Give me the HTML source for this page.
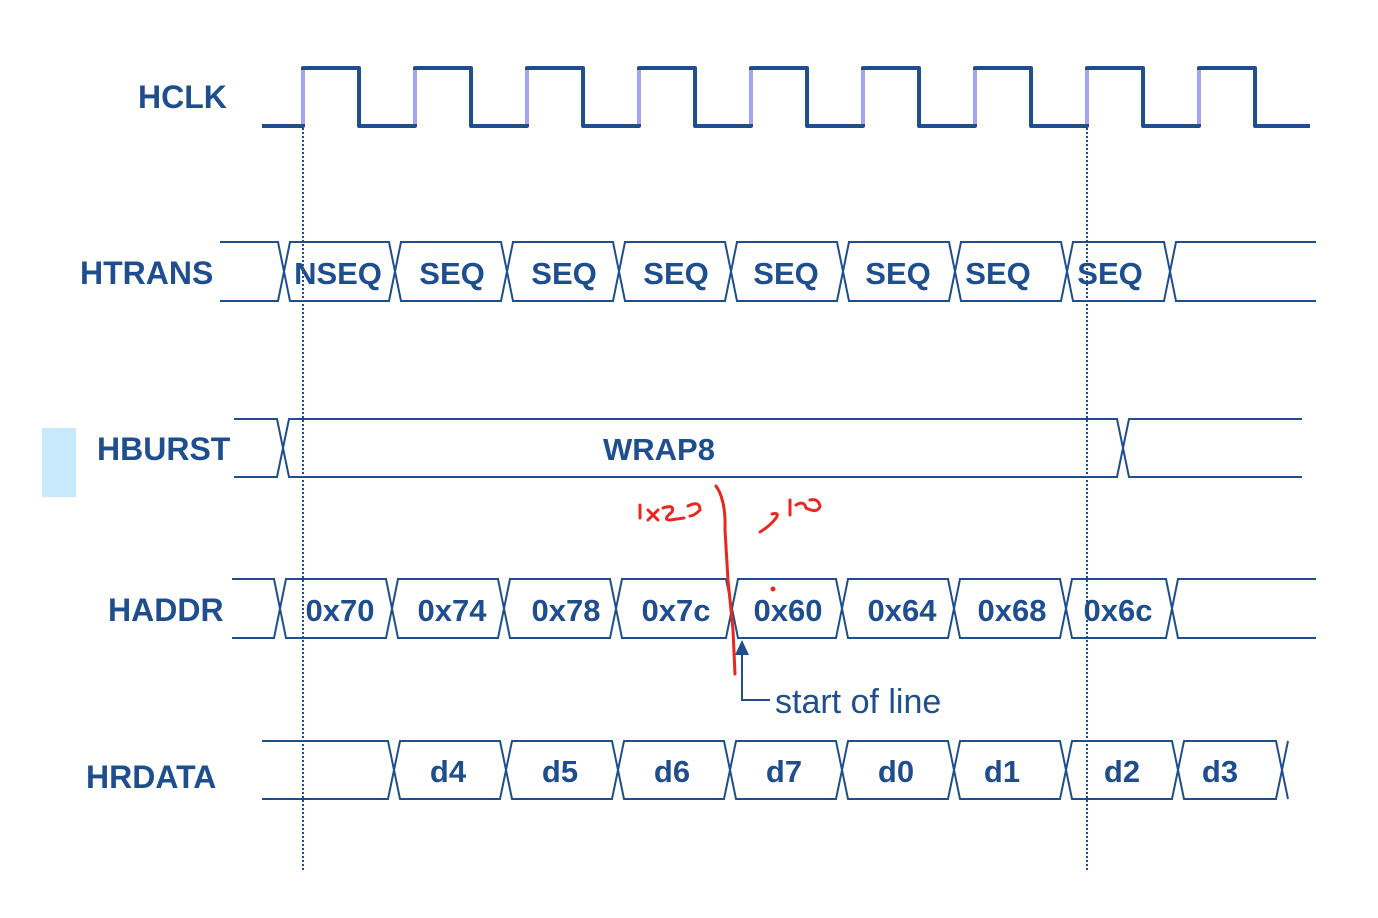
<!DOCTYPE html>
<html><head><meta charset="utf-8"><style>
html,body{margin:0;padding:0;background:#fff;}
svg{display:block;}
text{font-family:"Liberation Sans",Arial,sans-serif;fill:#1f4e8e;}
.b{font-weight:bold;font-size:32px;}
.v{font-weight:bold;font-size:31px;text-anchor:middle;}
</style></head><body>
<svg width="1378" height="918" viewBox="0 0 1378 918" xmlns="http://www.w3.org/2000/svg">
<rect x="42" y="428" width="34" height="69" fill="#c8e8fb"/>
<g fill="none" stroke="#1f4e8e">
<path stroke-width="4" stroke-linejoin="round" d="M262 126 H303 V68 H359 V126 H415 V68 H471 V126 H527 V68 H583 V126 H639 V68 H695 V126 H751 V68 H807 V126 H863 V68 H919 V126 H975 V68 H1031 V126 H1087 V68 H1143 V126 H1199 V68 H1255 V126 H1310"/>
<g stroke="#a4a4f4" stroke-width="4">
<path d="M303 124V70M415 124V70M527 124V70M639 124V70M751 124V70M863 124V70M975 124V70M1087 124V70M1199 124V70"/>
</g>
<g stroke-width="2">
<path d="M220 242 H278 L290 301 H389 L401 242 H501 L513 301 H613 L625 242 H725 L737 301 H837 L849 242 H949 L961 301 H1061 L1073 242 H1164 L1176 301 H1316"/>
<path d="M220 301 H278 L290 242 H389 L401 301 H501 L513 242 H613 L625 301 H725 L737 242 H837 L849 301 H949 L961 242 H1061 L1073 301 H1164 L1176 242 H1316"/>
<path d="M234 419 H277 L289 477 H1117 L1129 419 H1302"/>
<path d="M234 477 H277 L289 419 H1117 L1129 477 H1302"/>
<path d="M232 579 H274 L286 638 H386 L398 579 H498 L510 638 H610 L622 579 H726 L738 638 H836 L848 579 H948 L960 638 H1060 L1072 579 H1166 L1178 638 H1316"/>
<path d="M232 638 H274 L286 579 H386 L398 638 H498 L510 579 H610 L622 638 H726 L738 579 H836 L848 638 H948 L960 579 H1060 L1072 638 H1166 L1178 579 H1316"/>
<path d="M262 741 H388 L400 799 H500 L512 741 H612 L624 799 H724 L736 741 H836 L848 799 H948 L960 741 H1060 L1072 799 H1172 L1184 741 H1276 L1288 799"/>
<path d="M262 799 H388 L400 741 H500 L512 799 H612 L624 741 H724 L736 799 H836 L848 741 H948 L960 799 H1060 L1072 741 H1172 L1184 799 H1276 L1288 741"/>
<path d="M742 652 V700 H770"/>
</g>
<path stroke-width="2" stroke-dasharray="2 2" d="M303 128 V870 M1087 128 V870"/>
</g>
<polygon points="742,640 735,655 749,655" fill="#1f4e8e"/>
<text class="b" x="138" y="108">HCLK</text>
<text class="b" x="80" y="284">HTRANS</text>
<text class="b" x="97" y="460">HBURST</text>
<text class="b" x="108" y="621">HADDR</text>
<text class="b" x="86" y="788">HRDATA</text>
<text class="v" x="338" y="284">NSEQ</text>
<text class="v" x="452" y="284">SEQ</text>
<text class="v" x="564" y="284">SEQ</text>
<text class="v" x="676" y="284">SEQ</text>
<text class="v" x="786" y="284">SEQ</text>
<text class="v" x="898" y="284">SEQ</text>
<text class="v" x="998" y="284">SEQ</text>
<text class="v" x="1110" y="284">SEQ</text>
<text class="v" x="659" y="460">WRAP8</text>
<text class="v" x="340" y="621">0x70</text>
<text class="v" x="452" y="621">0x74</text>
<text class="v" x="566" y="621">0x78</text>
<text class="v" x="676" y="621">0x7c</text>
<text class="v" x="788" y="621">0x60</text>
<text class="v" x="902" y="621">0x64</text>
<text class="v" x="1012" y="621">0x68</text>
<text class="v" x="1118" y="621">0x6c</text>
<text class="v" x="448" y="782">d4</text>
<text class="v" x="560" y="782">d5</text>
<text class="v" x="672" y="782">d6</text>
<text class="v" x="784" y="782">d7</text>
<text class="v" x="896" y="782">d0</text>
<text class="v" x="1002" y="782">d1</text>
<text class="v" x="1122" y="782">d2</text>
<text class="v" x="1220" y="782">d3</text>
<text x="775" y="713" style="font-size:34px;">start of line</text>
<g fill="none" stroke="#e8281e" stroke-width="3" stroke-linecap="round">
<path d="M716 486 Q726 500 725 530 L728 580 L733 630 L735 674"/>
<path d="M640 505 V518 M648 510 L658 520 M658 510 L648 520 M663 508 Q675 504 672 512 Q662 520 670 520 L684 518 M688 506 Q700 500 700 510 Q694 516 690 516"/>
<path d="M760 532 Q770 526 776 518 Q780 512 772 514 M790 500 V515 M796 505 Q804 500 806 508 Q818 514 820 506 Q818 498 810 500"/>
<circle cx="773" cy="589" r="1" fill="#e8281e"/>
</g>
</svg>
</body></html>
